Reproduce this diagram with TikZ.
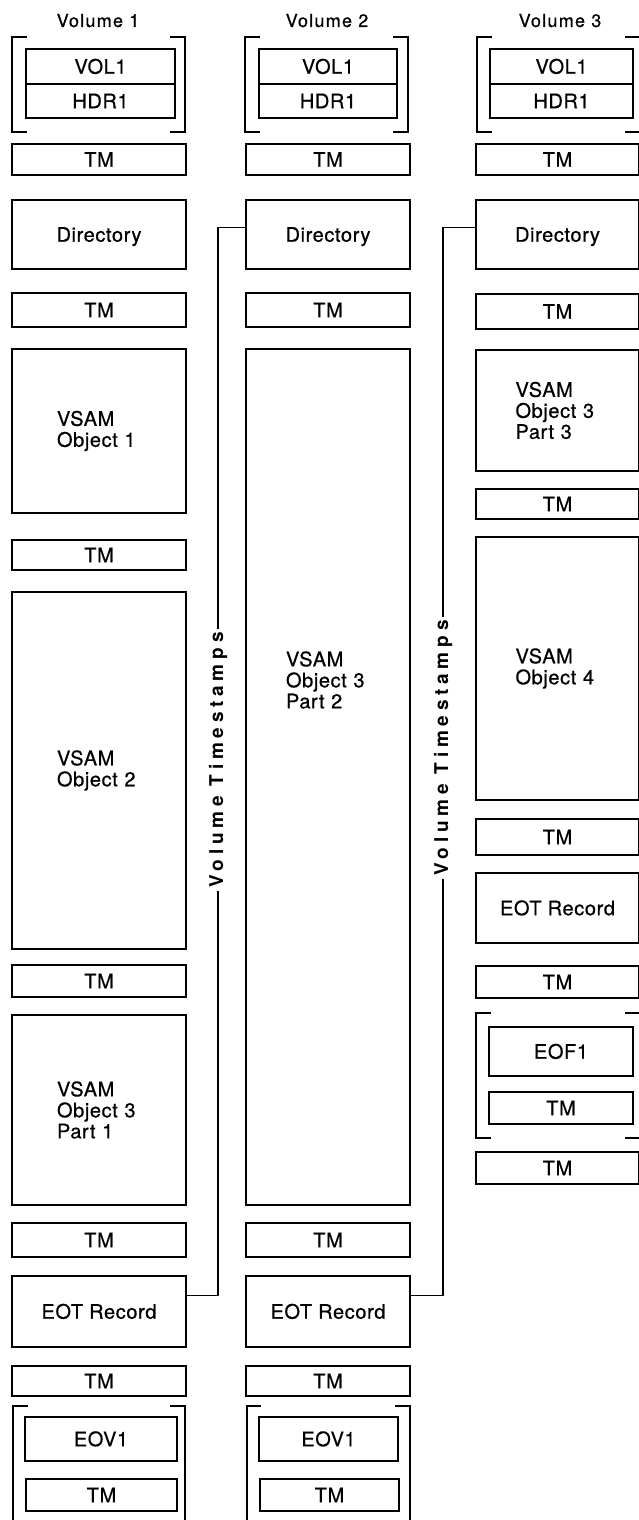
\documentclass[tikz,border=0pt]{standalone}
\usepackage{fontspec}
\setmainfont{TeX Gyre Heros}
\newfontfamily\boxfont[LetterSpace=3,FakeBold=0.6]{TeX Gyre Heros}
\newfontfamily\volfont[LetterSpace=7,FakeBold=0.6]{TeX Gyre Heros}
\newfontfamily\stampfont[LetterSpace=25]{TeX Gyre Heros}
\usepackage{tikz}
\usetikzlibrary{fit}

% bracket pair round a label group: x1,y1,x2,y2
\newcommand\hdrbrk[4]{%
  \draw[brk] (#1+15,#2) -- (#1,#2) -- (#1,#4) -- (#1+15,#4);
  \draw[brk] (#3-15,#2) -- (#3,#2) -- (#3,#4) -- (#3-15,#4);}

\tikzset{
  rec/.style={draw, line width=2.2pt, inner sep=0pt},
  txt/.style={inner sep=0pt, text height=14.4pt, text depth=0pt,
    font=\boxfont\fontsize{20}{21}\selectfont},
  vsamtxt/.style={inner sep=0pt, align=left, text width=84pt,
    font=\boxfont\fontsize{20}{21}\selectfont},
  lbl/.style={label={[txt]center:#1}},
  vlbl/.style={label={[vsamtxt]center:#1}},
  vol/.style={anchor=base, font=\volfont\fontsize{18}{20}\selectfont},
  stamp/.style={rotate=90, inner sep=3pt,
    font=\stampfont\bfseries\fontsize{19}{21}\selectfont},
  brk/.style={line width=2.4pt},
  wire/.style={line width=1.5pt},
}

\begin{document}
\begin{tikzpicture}[x=1pt,y=-1pt]
  \useasboundingbox (0,0) rectangle (639,1520);

  \foreach \x/\n in {98/1,327/2,560/3}
    \node[vol] (lbl\n) at (\x,27) {Volume \n};

  % volume 1
  \hdrbrk{12}{37}{185}{132}
  \node[rec, lbl=VOL1, fit={(26,49) (175,84)}] (vol1) {};
  \node[rec, lbl=HDR1, fit={(26,84) (175,118)}] (hdr1) {};
  \node[rec, lbl=TM, fit={(12,144) (186,175)}] (tm1a) {};
  \node[rec, lbl=Directory, fit={(12,200) (186,269)}] (dir1) {};
  \node[rec, lbl=TM, fit={(12,293) (186,327)}] (tm1b) {};
  \node[rec, vlbl={VSAM\\Object 1}, fit={(12,349) (186,513)}] (obj1) {};
  \node[rec, lbl=TM, fit={(12,540) (186,570)}] (tm1c) {};
  \node[rec, vlbl={VSAM\\Object 2}, fit={(12,592) (186,949)}] (obj2) {};
  \node[rec, lbl=TM, fit={(12,965) (186,997)}] (tm1d) {};
  \node[rec, vlbl={VSAM\\Object 3\\Part 1}, fit={(12,1015) (186,1205)}] (obj31) {};
  \node[rec, lbl=TM, fit={(12,1223) (186,1257)}] (tm1e) {};
  \node[rec, lbl=EOT Record, fit={(12,1276) (186,1347)}] (eot1) {};
  \node[rec, lbl=TM, fit={(12,1366) (186,1396)}] (tm1f) {};
  \draw[brk] (28,1406) -- (13,1406) -- (13,1530);
  \draw[brk] (170,1406) -- (185,1406) -- (185,1530);
  \node[rec, lbl=EOV1, fit={(25,1417) (177,1461)}] (eov1) {};
  \node[rec, lbl=TM, fit={(26,1479) (177,1511)}] (tm1g) {};

  % volume 2
  \hdrbrk{245}{37}{408}{132}
  \node[rec, lbl=VOL1, fit={(259,49) (397,84)}] (vol2) {};
  \node[rec, lbl=HDR1, fit={(259,84) (397,118)}] (hdr2) {};
  \node[rec, lbl=TM, fit={(246,144) (410,175)}] (tm2a) {};
  \node[rec, lbl=Directory, fit={(246,200) (410,269)}] (dir2) {};
  \node[rec, lbl=TM, fit={(246,293) (410,327)}] (tm2b) {};
  \node[rec, fit={(246,349) (410,1205)}] (obj32) {};
  \node[vsamtxt] (obj32txt) at (328,680) {VSAM\\Object 3\\Part 2};
  \node[rec, lbl=TM, fit={(246,1223) (410,1257)}] (tm2c) {};
  \node[rec, lbl=EOT Record, fit={(246,1276) (410,1347)}] (eot2) {};
  \node[rec, lbl=TM, fit={(246,1366) (410,1396)}] (tm2d) {};
  \draw[brk] (261,1406) -- (247,1406) -- (247,1530);
  \draw[brk] (395,1406) -- (410,1406) -- (410,1530);
  \node[rec, lbl=EOV1, fit={(259,1417) (398,1461)}] (eov2) {};
  \node[rec, lbl=TM, fit={(260,1479) (399,1511)}] (tm2e) {};

  % volume 3
  \hdrbrk{477}{37}{640}{132}
  \node[rec, lbl=VOL1, fit={(490,49) (633,84)}] (vol3) {};
  \node[rec, lbl=HDR1, fit={(490,84) (633,118)}] (hdr3) {};
  \node[rec, lbl=TM, fit={(476,144) (639,175)}] (tm3a) {};
  \node[rec, lbl=Directory, fit={(476,200) (639,269)}] (dir3) {};
  \node[rec, lbl=TM, fit={(476,294) (639,329)}] (tm3b) {};
  \node[rec, vlbl={VSAM\\Object 3\\Part 3}, fit={(476,350) (639,471)}] (obj33) {};
  \node[rec, lbl=TM, fit={(476,489) (639,519)}] (tm3c) {};
  \node[rec, vlbl={VSAM\\Object 4}, fit={(476,537) (639,800)}] (obj4) {};
  \node[rec, lbl=TM, fit={(476,819) (639,855)}] (tm3d) {};
  \node[rec, lbl=EOT Record, fit={(476,873) (639,943)}] (eot3) {};
  \node[rec, lbl=TM, fit={(476,966) (639,998)}] (tm3e) {};
  \hdrbrk{476}{1013}{640}{1138}
  \node[rec, lbl=EOF1, fit={(489,1027) (633,1076)}] (eof1) {};
  \node[rec, lbl=TM, fit={(489,1092) (633,1124)}] (tm3f) {};
  \node[rec, lbl=TM, fit={(476,1152) (639,1184)}] (tm3g) {};

  % timestamps links
  \node[stamp] (ts12) at (218,760) {Volume Timestamps};
  \node[stamp] (ts23) at (443,748) {Volume Timestamps};
  \draw[wire] ([yshift=7pt]dir2.west) -| (ts12.east);
  \draw[wire] (ts12.west) |- ([yshift=16pt]eot1.east);
  \draw[wire] ([yshift=7pt]dir3.west) -| (ts23.east);
  \draw[wire] (ts23.west) |- ([yshift=16pt]eot2.east);
\end{tikzpicture}
\end{document}
